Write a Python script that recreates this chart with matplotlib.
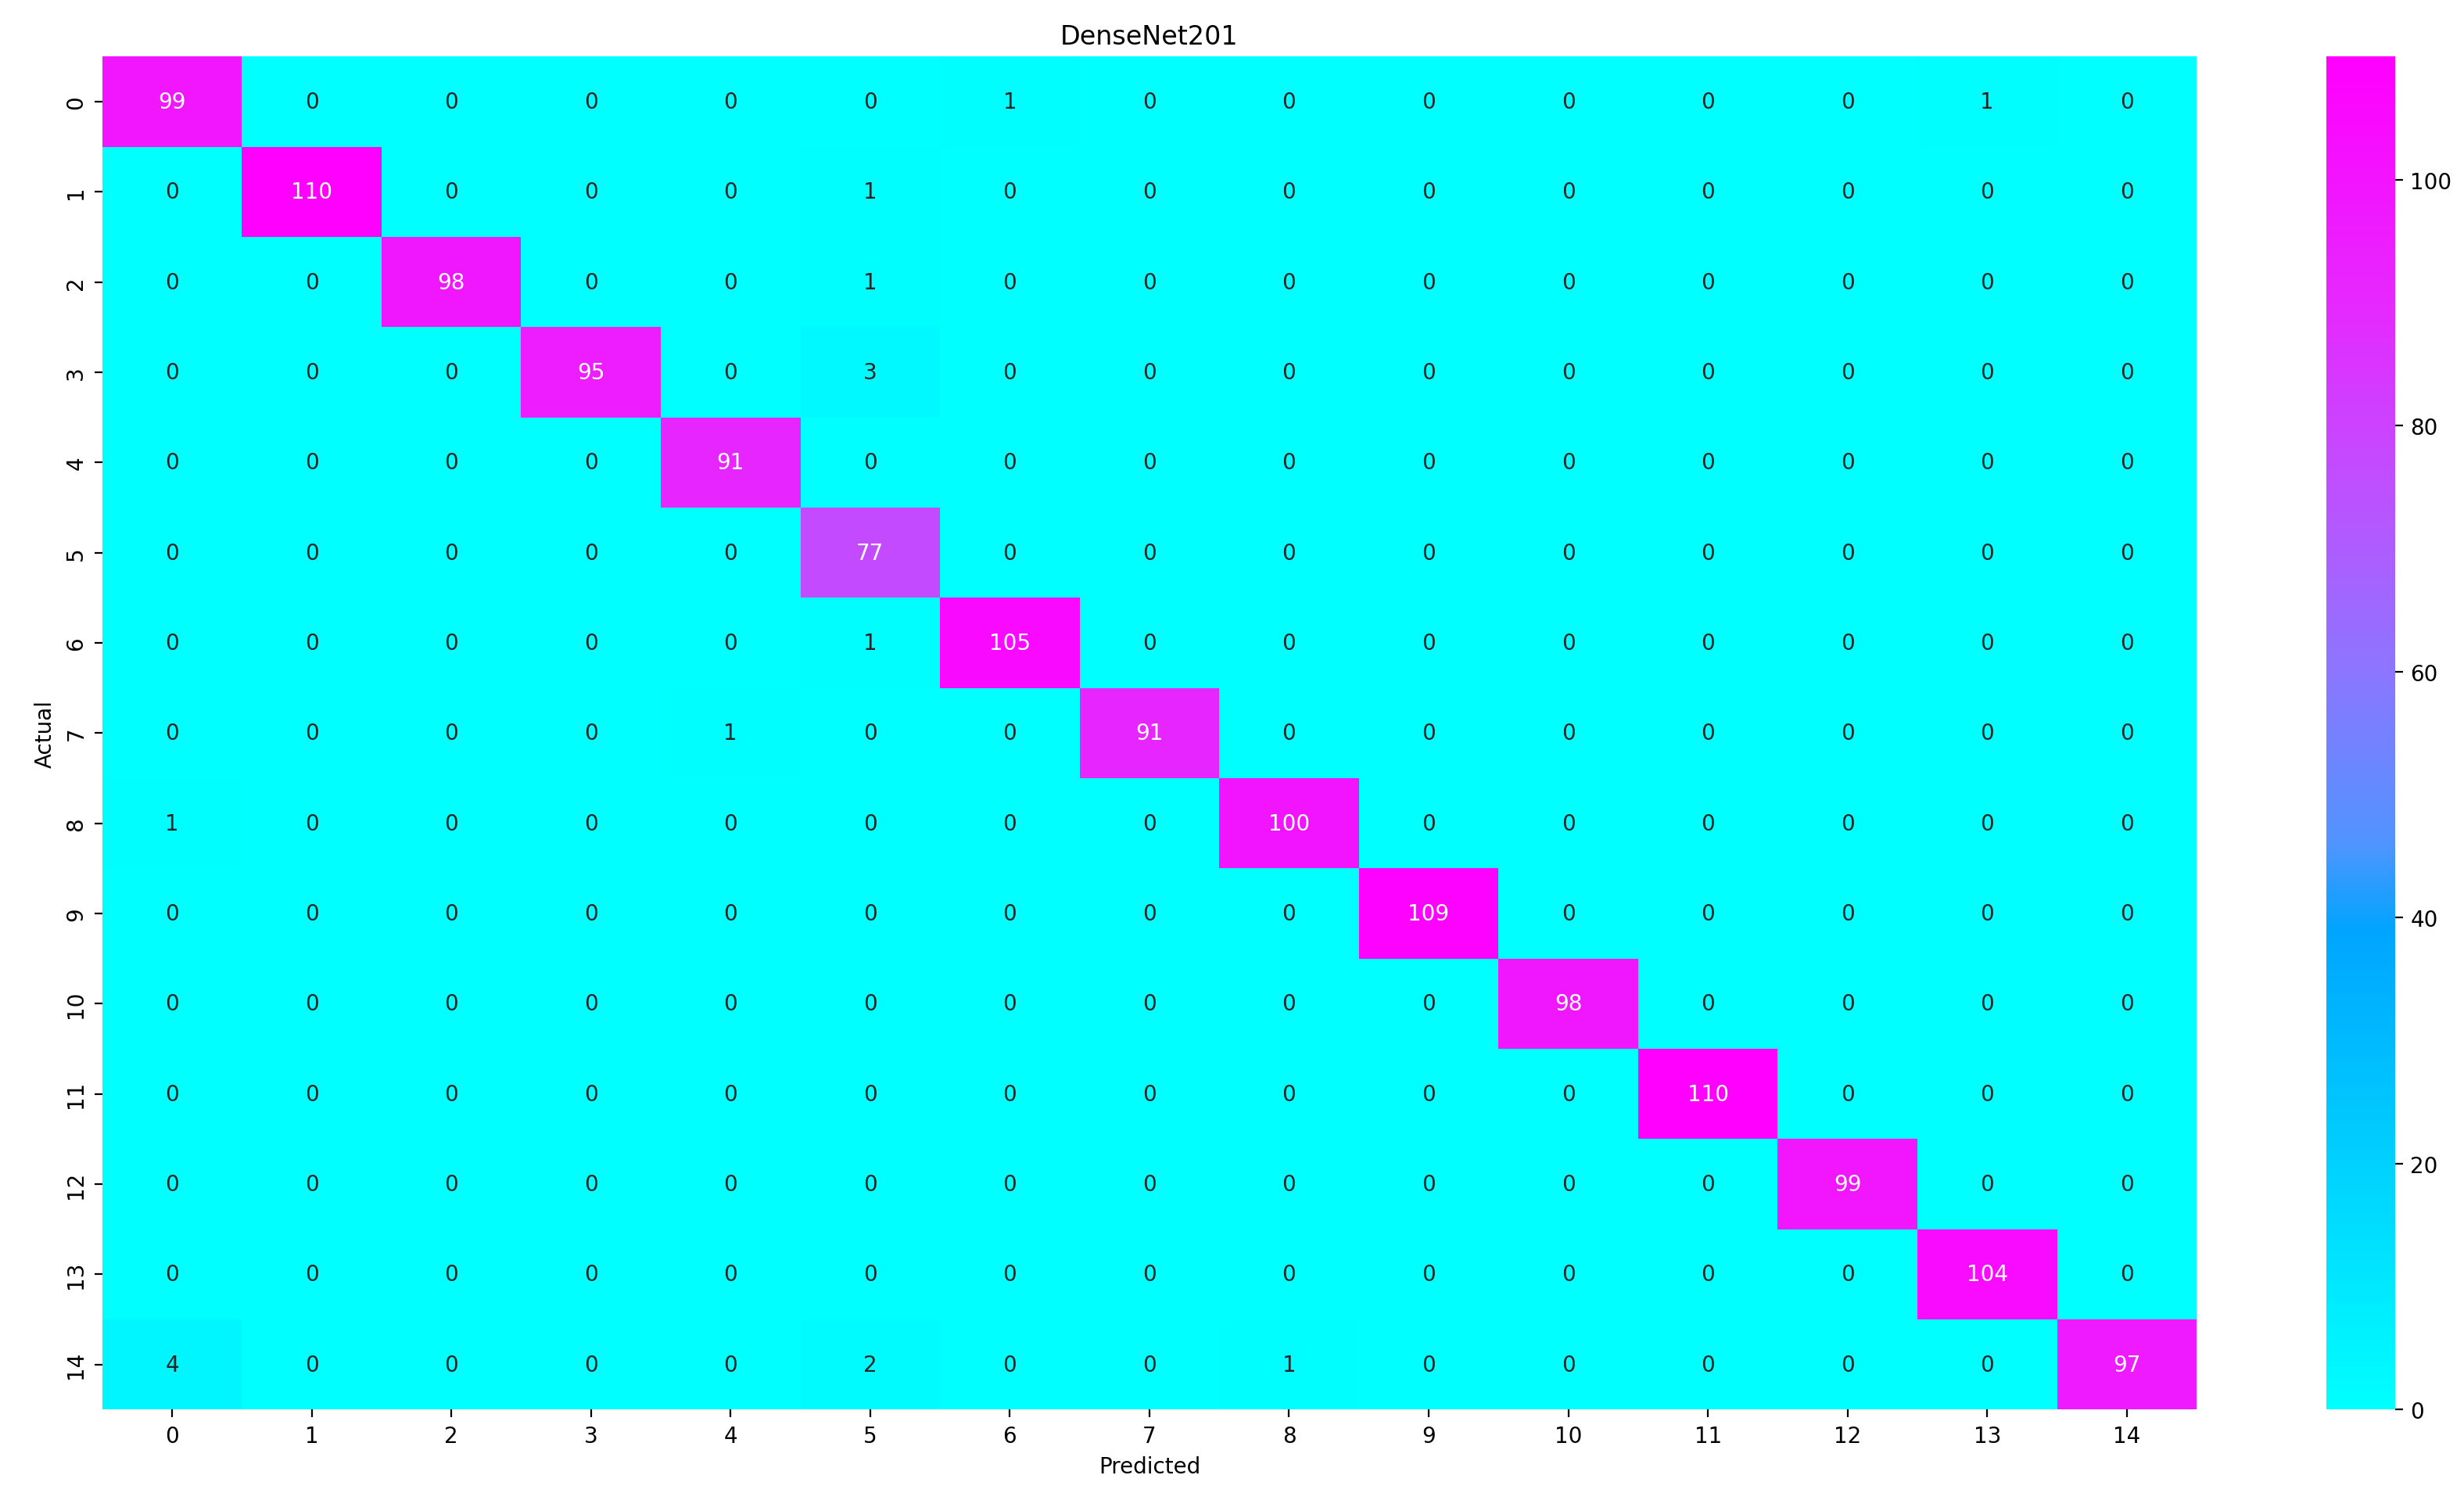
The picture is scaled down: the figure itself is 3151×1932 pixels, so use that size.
import numpy as np
import matplotlib
matplotlib.use("Agg")
import matplotlib.pyplot as plt
from matplotlib.colors import LinearSegmentedColormap
import seaborn as sns

labels = [str(i) for i in range(15)]
cm = np.array([
 [99,0,0,0,0,0,1,0,0,0,0,0,0,1,0],
 [0,110,0,0,0,1,0,0,0,0,0,0,0,0,0],
 [0,0,98,0,0,1,0,0,0,0,0,0,0,0,0],
 [0,0,0,95,0,3,0,0,0,0,0,0,0,0,0],
 [0,0,0,0,91,0,0,0,0,0,0,0,0,0,0],
 [0,0,0,0,0,77,0,0,0,0,0,0,0,0,0],
 [0,0,0,0,0,1,105,0,0,0,0,0,0,0,0],
 [0,0,0,0,1,0,0,91,0,0,0,0,0,0,0],
 [1,0,0,0,0,0,0,0,100,0,0,0,0,0,0],
 [0,0,0,0,0,0,0,0,0,109,0,0,0,0,0],
 [0,0,0,0,0,0,0,0,0,0,98,0,0,0,0],
 [0,0,0,0,0,0,0,0,0,0,0,110,0,0,0],
 [0,0,0,0,0,0,0,0,0,0,0,0,99,0,0],
 [0,0,0,0,0,0,0,0,0,0,0,0,0,104,0],
 [4,0,0,0,0,2,0,0,1,0,0,0,0,0,97],
])

vmax = 110
nodes = [(0, (0, 255, 255)), (39, (0, 165, 255)), (46, (80, 148, 255)),
         (60, (140, 118, 255)), (75, (190, 80, 255)), (90, (230, 40, 255)),
         (110, (255, 0, 255))]
cmap = LinearSegmentedColormap.from_list(
    "c", [(v / vmax, tuple(c / 255 for c in col)) for v, col in nodes])

fig = plt.figure(figsize=(15.755, 9.665), dpi=200)
ax = fig.add_axes([0.0415, 0.067, 0.850, 0.895])
cax = fig.add_axes([0.944, 0.067, 0.028, 0.895])
sns.heatmap(cm, annot=True, fmt="d", cmap=cmap, vmin=0, vmax=vmax, ax=ax, cbar_ax=cax,
            xticklabels=labels, yticklabels=labels, annot_kws={"size": 10})
ax.set_title("DenseNet201", fontsize=12)
ax.set_xlabel("Predicted", fontsize=10)
ax.set_ylabel("Actual", fontsize=10)
ax.tick_params(labelsize=10)
cax.tick_params(labelsize=10)
fig.savefig("out.png", dpi=200)
